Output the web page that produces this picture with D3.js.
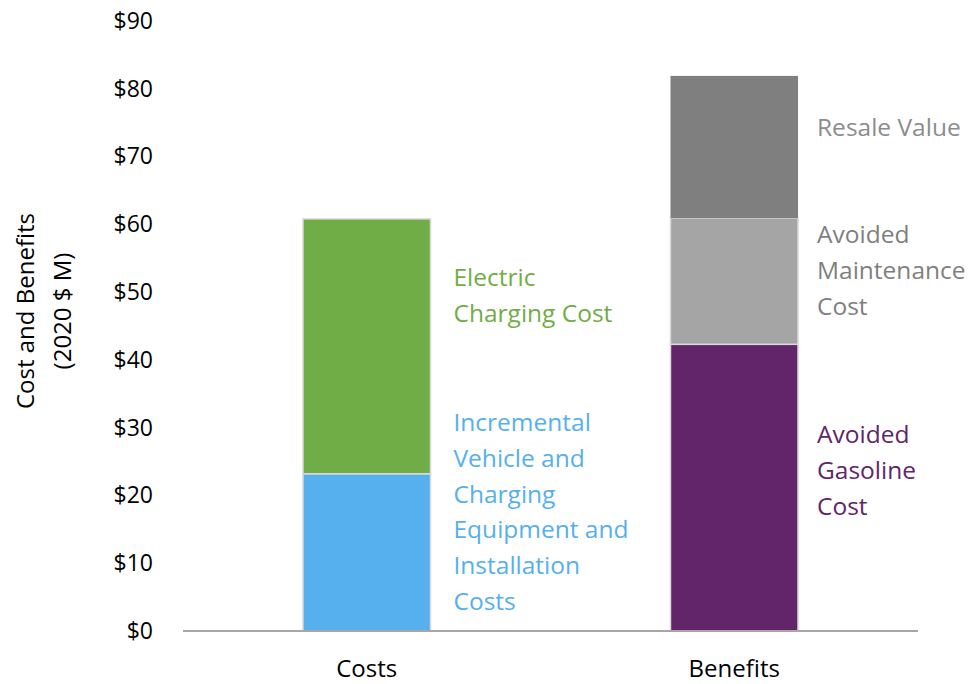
<!DOCTYPE html>
<html>
<head>
<meta charset="utf-8">
<script src="https://cdn.jsdelivr.net/npm/d3@7"></script>
<style>
  html, body { margin: 0; padding: 0; background: #fff; }
  svg { display: block; font-family: "Open Sans", "Noto Sans", sans-serif; }
</style>
</head>
<body>
<svg id="chart" width="976" height="684"></svg>
<script>
// ---- data ----
const categories = ["Costs", "Benefits"];
const seriesNames = [
  "Incremental Vehicle and Charging Equipment and Installation Costs",
  "Electric Charging Cost",
  "Avoided Gasoline Cost",
  "Avoided Maintenance Cost",
  "Resale Value"
];
const seriesCategory = ["Costs", "Costs", "Benefits", "Benefits", "Benefits"];
const seriesValues = [23.2, 37.6, 42.3, 18.6, 21.0];
const labelLines = [
  ["Incremental", "Vehicle and", "Charging", "Equipment and", "Installation", "Costs"],
  ["Electric", "Charging Cost"],
  ["Avoided", "Gasoline", "Cost"],
  ["Avoided", "Maintenance", "Cost"],
  ["Resale Value"]
];
const yTickValues = [0, 10, 20, 30, 40, 50, 60, 70, 80, 90];
const yTitleLines = ["Cost and Benefits", "(2020 $ M)"];

// ---- styles / layout ----
const fills = ["#56B0EE", "#70AD47", "#622569", "#A5A5A5", "#7F7F7F"];
const labelColors = ["#56B0EE", "#70AD47", "#622569", "#7F7F7F", "#8C8C8C"];
const labelCenterValue = [17.7, 49.6, 23.8, 53.3, 74.4]; // label block centres, in data units
const labelGap = [23, 23, 19, 19, 19];

const svg = d3.select("#chart");
const x0 = 183, x1 = 918, yTop = 21, yBottom = 631;

const x = d3.scaleBand().domain(categories).range([x0, x1]).padding(0);
const barW = x.bandwidth() * 0.347;
const y = d3.scaleLinear().domain([0, 90]).range([yBottom, yTop]);

// stack
const segs = [];
const running = {};
seriesValues.forEach((v, i) => {
  const c = seriesCategory[i];
  const base = running[c] || 0;
  segs.push({ i, cat: c, y0: base, y1: base + v });
  running[c] = base + v;
});

// y axis (labels only)
const yAxis = d3.axisLeft(y).tickValues(yTickValues).tickFormat(d => "$" + d).tickSize(0).tickPadding(30);
const gy = svg.append("g").attr("transform", `translate(${x0},0)`).call(yAxis);
gy.select(".domain").remove();
gy.selectAll("text").attr("font-size", 23).attr("fill", "#000").attr("font-family", '"Open Sans", sans-serif');

// bars
svg.append("g").selectAll("rect").data(segs).join("rect")
  .attr("x", d => x(d.cat) + (x.bandwidth() - barW) / 2)
  .attr("width", barW)
  .attr("y", d => y(d.y1))
  .attr("height", d => y(d.y0) - y(d.y1))
  .attr("fill", d => fills[d.i])
  .attr("stroke", d => d.i === 4 ? "none" : "#D9D9D9")
  .attr("stroke-width", 1.5);

// x axis line
svg.append("line").attr("x1", x0).attr("x2", x1).attr("y1", y(0)).attr("y2", y(0))
  .attr("stroke", "#A6A6A6").attr("stroke-width", 2);

// category labels
svg.append("g").selectAll("text").data(categories).join("text")
  .attr("x", d => x(d) + x.bandwidth() / 2)
  .attr("y", yBottom + 36)
  .attr("text-anchor", "middle")
  .attr("dominant-baseline", "central")
  .attr("font-size", 24)
  .attr("fill", "#000")
  .text(d => d);

// segment labels
const lineH = 35.8;
segs.forEach(d => {
  const lines = labelLines[d.i];
  const lx = x(d.cat) + (x.bandwidth() + barW) / 2 + labelGap[d.i];
  const cy = y(labelCenterValue[d.i]);
  const t = svg.append("text")
    .attr("font-size", 24.5)
    .attr("fill", labelColors[d.i]);
  lines.forEach((ln, k) => {
    t.append("tspan")
      .attr("x", lx)
      .attr("y", cy + (k - (lines.length - 1) / 2) * lineH)
      .attr("dominant-baseline", "central")
      .text(ln);
  });
});

// y title
const yt = svg.append("text")
  .attr("transform", `translate(0,311) rotate(-90)`)
  .attr("text-anchor", "middle")
  .attr("font-size", 24)
  .attr("fill", "#000");
yTitleLines.forEach((ln, k) => {
  yt.append("tspan").attr("x", 0).attr("y", 24 + k * 37)
    .attr("dominant-baseline", "central").text(ln);
});
</script>
</body>
</html>
